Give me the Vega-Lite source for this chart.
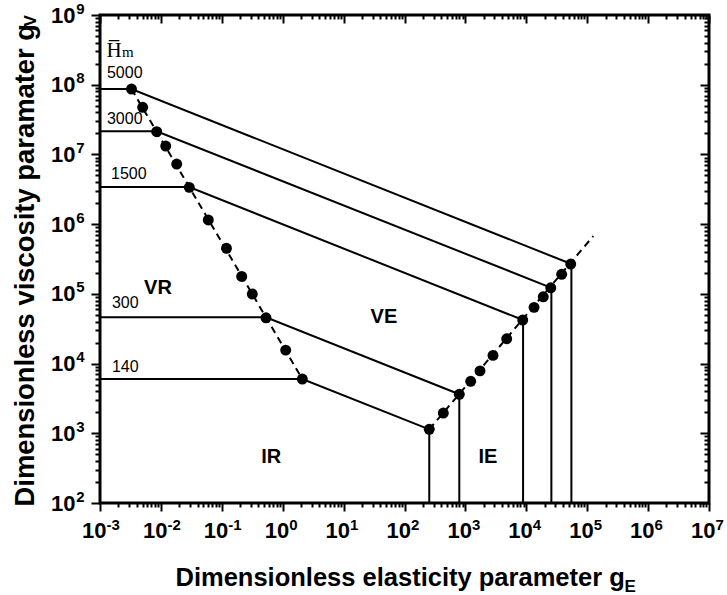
{
  "$schema": "https://vega.github.io/schema/vega-lite/v6.json",
  "width": 609,
  "height": 488,
  "autosize": "none",
  "padding": {"left": 100, "top": 15, "right": 18, "bottom": 92},
  "background": "white",
  "config": {
    "view": {"stroke": "black", "strokeWidth": 3},
    "axis": {"domain": false, "grid": false, "tickColor": "black", "tickWidth": 2, "labelColor": "black", "titleColor": "black", "labelFont": "Liberation Sans", "titleFont": "Liberation Sans", "labelFontWeight": "bold", "titleFontWeight": "bold", "labelFlush": false, "labelOverlap": false, "labelBound": false}
  },
  "datasets": {
    "hm": [
      {"h": "5000", "i": 0, "x": 0.001, "y": 86700000},
      {"h": "5000", "i": 1, "x": 0.00329, "y": 86700000},
      {"h": "5000", "i": 2, "x": 55000, "y": 268000},
      {"h": "5000", "i": 3, "x": 55000, "y": 100},
      {"h": "3000", "i": 0, "x": 0.001, "y": 21500000},
      {"h": "3000", "i": 1, "x": 0.00853, "y": 21500000},
      {"h": "3000", "i": 2, "x": 25800, "y": 122000},
      {"h": "3000", "i": 3, "x": 25800, "y": 100},
      {"h": "1500", "i": 0, "x": 0.001, "y": 3400000},
      {"h": "1500", "i": 1, "x": 0.0292, "y": 3400000},
      {"h": "1500", "i": 2, "x": 8850, "y": 42100},
      {"h": "1500", "i": 3, "x": 8850, "y": 100},
      {"h": "300", "i": 0, "x": 0.001, "y": 46000},
      {"h": "300", "i": 1, "x": 0.532, "y": 46000},
      {"h": "300", "i": 2, "x": 794, "y": 3630},
      {"h": "300", "i": 3, "x": 794, "y": 100},
      {"h": "140", "i": 0, "x": 0.001, "y": 6000},
      {"h": "140", "i": 1, "x": 2.1, "y": 6000},
      {"h": "140", "i": 2, "x": 255, "y": 1140},
      {"h": "140", "i": 3, "x": 255, "y": 100}
    ],
    "branch": [
      {"b": "L", "i": 0, "x": 0.00329, "y": 86700000},
      {"b": "L", "i": 1, "x": 2.1, "y": 6000},
      {"b": "R", "i": 0, "x": 255, "y": 1140},
      {"b": "R", "i": 1, "x": 126000, "y": 675000}
    ],
    "pts": [
      {"x": 0.00329, "y": 86700000},
      {"x": 0.00502, "y": 47400000},
      {"x": 0.00853, "y": 21200000},
      {"x": 0.012, "y": 13200000},
      {"x": 0.01817, "y": 7280000},
      {"x": 0.02924, "y": 3370000},
      {"x": 0.06, "y": 1150000},
      {"x": 0.1194, "y": 450000},
      {"x": 0.212, "y": 178000},
      {"x": 0.317, "y": 99300},
      {"x": 0.532, "y": 45400},
      {"x": 1.12, "y": 15600},
      {"x": 2.1, "y": 6000},
      {"x": 255, "y": 1140},
      {"x": 434, "y": 1950},
      {"x": 794, "y": 3630},
      {"x": 1222, "y": 5560},
      {"x": 1738, "y": 7860},
      {"x": 2840, "y": 13100},
      {"x": 4766, "y": 22700},
      {"x": 8730, "y": 42100},
      {"x": 13400, "y": 64000},
      {"x": 19000, "y": 90800},
      {"x": 25200, "y": 122000},
      {"x": 38100, "y": 191000},
      {"x": 53600, "y": 268000}
    ],
    "nums": [
      {"t": "5000", "x": 0.0013, "y": 147000000},
      {"t": "3000", "x": 0.0013, "y": 32200000},
      {"t": "1500", "x": 0.00152, "y": 5240000},
      {"t": "300", "x": 0.00157, "y": 73800},
      {"t": "140", "x": 0.00157, "y": 8900}
    ],
    "regions": [
      {"t": "VR", "x": 0.00895, "y": 121000},
      {"t": "VE", "x": 46, "y": 47200},
      {"t": "IR", "x": 0.65, "y": 458},
      {"t": "IE", "x": 2350, "y": 458}
    ],
    "hbar": [{"t": "H̅", "x": 0.0017, "y": 252000000}],
    "hsub": [{"t": "m", "x": 0.0023, "y": 250000000}]
  },
  "resolve": {"axis": {"x": "independent", "y": "independent"}},
  "layer": [
    {
      "data": {"name": "hm"},
      "mark": {"type": "line", "color": "black", "strokeWidth": 2, "clip": true},
      "encoding": {
        "x": {"field": "x", "type": "quantitative", "scale": {"type": "log", "domain": [0.001, 10000000]},
          "axis": {"orient": "bottom", "values": [0.001, 0.01, 0.1, 1, 10, 100, 1000, 10000, 100000, 1000000, 10000000], "tickSize": 8, "labelFontSize": 22, "labelPadding": 19, "labelAlign": "right", "labelBaseline": "middle", "labelOffset": 6,
            "labelExpr": "'10'",
            "title": "Dimensionless elasticity parameter g", "titleFontSize": 25.5, "titleAlign": "left", "titleBaseline": "alphabetic", "titleX": 75, "titleY": 82}},
        "y": {"field": "y", "type": "quantitative", "scale": {"type": "log", "domain": [100, 1000000000]},
          "axis": {"orient": "left", "values": [100, 1000, 10000, 100000, 1000000, 10000000, 100000000, 1000000000], "tickSize": 9, "labelFontSize": 22, "labelPadding": 16, "labelAlign": "right", "labelBaseline": "middle",
            "labelExpr": "'10'",
            "title": "Dimensionless viscosity paramater g", "titleFontSize": 27.4, "titleAngle": -90, "titleAlign": "left", "titleBaseline": "alphabetic", "titleX": -67, "titleY": 491}},
        "detail": {"field": "h"},
        "order": {"field": "i", "type": "quantitative"}
      }
    },
    {
      "data": {"name": "branch"},
      "mark": {"type": "line", "color": "black", "strokeWidth": 2, "strokeDash": [7, 5], "clip": true},
      "encoding": {
        "x": {"field": "x", "type": "quantitative", "scale": {"type": "log", "domain": [0.001, 10000000]},
          "axis": {"orient": "bottom", "values": [0.001, 0.01, 0.1, 1, 10, 100, 1000, 10000, 100000, 1000000, 10000000], "tickSize": 8, "tickOpacity": 0, "labelFontSize": 15, "labelPadding": 13, "labelAlign": "left", "labelBaseline": "middle", "labelOffset": 6,
            "labelExpr": "(datum.value < 0.9 ? '-' : '') + round(abs(log(datum.value)/LN10))",
            "title": "E", "titleFontSize": 17, "titleAlign": "left", "titleBaseline": "alphabetic", "titleX": 524, "titleY": 88}},
        "y": {"field": "y", "type": "quantitative", "scale": {"type": "log", "domain": [100, 1000000000]},
          "axis": {"orient": "left", "values": [100, 1000, 10000, 100000, 1000000, 10000000, 100000000, 1000000000], "tickSize": 9, "tickOpacity": 0, "labelFontSize": 15, "labelPadding": 7, "labelAlign": "right", "labelBaseline": "middle", "labelOffset": -7,
            "labelExpr": "round(log(datum.value)/LN10)",
            "title": "V", "titleFontSize": 17, "titleAngle": -90, "titleAlign": "left", "titleBaseline": "alphabetic", "titleX": -65, "titleY": 11}},
        "detail": {"field": "b"},
        "order": {"field": "i", "type": "quantitative"}
      }
    },
    {
      "data": {"name": "pts"},
      "mark": {"type": "circle", "color": "black", "opacity": 1, "size": 120},
      "encoding": {
        "x": {"field": "x", "type": "quantitative", "scale": {"type": "log", "domain": [0.001, 10000000]},
          "axis": {"orient": "bottom", "values": [0.002,0.003,0.004,0.005,0.006,0.007,0.008,0.009,0.02,0.03,0.04,0.05,0.06,0.07,0.08,0.09,0.2,0.3,0.4,0.5,0.6,0.7,0.8,0.9,2,3,4,5,6,7,8,9,20,30,40,50,60,70,80,90,200,300,400,500,600,700,800,900,2000,3000,4000,5000,6000,7000,8000,9000,20000,30000,40000,50000,60000,70000,80000,90000,200000,300000,400000,500000,600000,700000,800000,900000,2000000,3000000,4000000,5000000,6000000,7000000,8000000,9000000], "tickSize": 4, "labels": false, "title": null}},
        "y": {"field": "y", "type": "quantitative", "scale": {"type": "log", "domain": [100, 1000000000]},
          "axis": {"orient": "left", "values": [200,300,400,500,600,700,800,900,2000,3000,4000,5000,6000,7000,8000,9000,20000,30000,40000,50000,60000,70000,80000,90000,200000,300000,400000,500000,600000,700000,800000,900000,2000000,3000000,4000000,5000000,6000000,7000000,8000000,9000000,20000000,30000000,40000000,50000000,60000000,70000000,80000000,90000000,200000000,300000000,400000000,500000000,600000000,700000000,800000000,900000000], "tickSize": 5, "labels": false, "title": null}}
      }
    },
    {
      "data": {"name": "nums"},
      "mark": {"type": "text", "align": "left", "baseline": "middle", "font": "Liberation Sans", "fontSize": 16, "color": "black"},
      "encoding": {
        "x": {"field": "x", "type": "quantitative", "scale": {"type": "log", "domain": [0.001, 10000000]},
          "axis": {"orient": "top", "values": [0.001, 0.01, 0.1, 1, 10, 100, 1000, 10000, 100000, 1000000, 10000000], "tickSize": -8, "labels": false, "title": null}},
        "y": {"field": "y", "type": "quantitative", "scale": {"type": "log", "domain": [100, 1000000000]},
          "axis": {"orient": "right", "values": [100, 1000, 10000, 100000, 1000000, 10000000, 100000000, 1000000000], "tickSize": -9, "labels": false, "title": null}},
        "text": {"field": "t"}
      }
    },
    {
      "data": {"name": "regions"},
      "mark": {"type": "text", "align": "center", "baseline": "middle", "font": "Liberation Sans", "fontSize": 20, "fontWeight": "bold", "color": "black"},
      "encoding": {
        "x": {"field": "x", "type": "quantitative", "scale": {"type": "log", "domain": [0.001, 10000000]},
          "axis": {"orient": "top", "values": [0.002,0.003,0.004,0.005,0.006,0.007,0.008,0.009,0.02,0.03,0.04,0.05,0.06,0.07,0.08,0.09,0.2,0.3,0.4,0.5,0.6,0.7,0.8,0.9,2,3,4,5,6,7,8,9,20,30,40,50,60,70,80,90,200,300,400,500,600,700,800,900,2000,3000,4000,5000,6000,7000,8000,9000,20000,30000,40000,50000,60000,70000,80000,90000,200000,300000,400000,500000,600000,700000,800000,900000,2000000,3000000,4000000,5000000,6000000,7000000,8000000,9000000], "tickSize": -4, "labels": false, "title": null}},
        "y": {"field": "y", "type": "quantitative", "scale": {"type": "log", "domain": [100, 1000000000]},
          "axis": {"orient": "right", "values": [200,300,400,500,600,700,800,900,2000,3000,4000,5000,6000,7000,8000,9000,20000,30000,40000,50000,60000,70000,80000,90000,200000,300000,400000,500000,600000,700000,800000,900000,2000000,3000000,4000000,5000000,6000000,7000000,8000000,9000000,20000000,30000000,40000000,50000000,60000000,70000000,80000000,90000000,200000000,300000000,400000000,500000000,600000000,700000000,800000000,900000000], "tickSize": -5, "labels": false, "title": null}},
        "text": {"field": "t"}
      }
    },
    {
      "data": {"name": "hbar"},
      "mark": {"type": "text", "align": "center", "baseline": "alphabetic", "font": "Liberation Serif", "fontSize": 21, "color": "black"},
      "encoding": {
        "x": {"field": "x", "type": "quantitative", "scale": {"type": "log", "domain": [0.001, 10000000]}, "axis": null},
        "y": {"field": "y", "type": "quantitative", "scale": {"type": "log", "domain": [100, 1000000000]}, "axis": null},
        "text": {"field": "t"}
      }
    },
    {
      "data": {"name": "hsub"},
      "mark": {"type": "text", "align": "left", "baseline": "alphabetic", "font": "Liberation Serif", "fontSize": 15, "color": "black"},
      "encoding": {
        "x": {"field": "x", "type": "quantitative", "scale": {"type": "log", "domain": [0.001, 10000000]}, "axis": null},
        "y": {"field": "y", "type": "quantitative", "scale": {"type": "log", "domain": [100, 1000000000]}, "axis": null},
        "text": {"field": "t"}
      }
    }
  ]
}
